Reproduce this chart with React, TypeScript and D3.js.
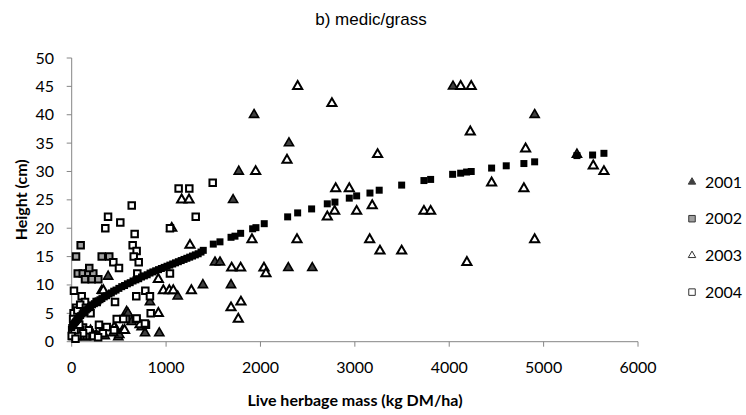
import React from 'react';
import * as d3 from 'd3';

// [herbage mass kg DM/ha, height cm]
const s2001: [number, number][] = [
  [1932, 40], [2302, 35], [1770, 30], [1710, 25], [1688, 10], [2295, 13], [2549, 13],
  [4040, 45], [4905, 40], [5353, 33], [1518, 14], [1571, 14],
  [386, 11.5], [318, 9], [582, 5.3], [596, 5], [635, 3.5], [494, 0.8], [504, 1.2], [540, 2],
  [777, 1.5], [928, 1.5], [829, 7], [1123, 8], [1390, 10], [741, 2.6],
  [100, 1.5], [200, 2], [260, 1.2], [440, 1.5], [470, 2.2], [150, 0.8], [350, 1]
];

const s2002: [number, number][] = [
  [46, 15], [95, 17], [318, 15], [398, 15], [64, 12], [117, 12], [176, 12], [229, 12],
  [186, 13], [141, 11], [212, 11], [282, 11],
  [10, 1], [40, 1], [70, 1], [100, 1], [130, 1], [160, 1], [190, 1], [220, 1], [250, 1.2],
  [20, 3], [60, 4], [30, 5], [120, 2.5], [5, 2], [85, 2]
];

const s2003: [number, number][] = [
  [2394, 45], [4121, 45], [4233, 45], [2757, 42], [4223, 37], [4809, 34], [3241, 33],
  [2281, 32], [5526, 31], [1949, 30], [5639, 30], [4449, 28], [2797, 27], [2941, 27],
  [4791, 27], [1165, 25], [1243, 25], [3184, 24], [2786, 23], [3019, 23], [3732, 23],
  [3803, 23], [2708, 22], [1060, 20], [1910, 18], [2387, 18], [3157, 18], [4905, 18],
  [1253, 17], [3266, 16], [3496, 16], [4187, 14], [1695, 13], [1790, 13], [2037, 13],
  [2058, 12], [918, 11], [971, 9], [1034, 9], [1076, 9], [1268, 9], [335, 9],
  [1793, 7], [1688, 6], [918, 5], [1765, 4], [724, 3], [450, 2.5], [560, 2]
];

const s2004: [number, number][] = [
  [1494, 28], [1133, 27], [1246, 27], [636, 24], [385, 22], [1314, 22], [515, 21],
  [356, 20], [1041, 20], [667, 19], [646, 17], [688, 16], [657, 15], [710, 14], [441, 14],
  [501, 13], [695, 12], [1041, 12], [24, 9], [780, 9], [106, 8], [684, 8], [829, 8],
  [141, 7], [265, 7], [459, 7], [46, 6], [837, 5], [477, 4], [575, 4], [681, 4], [787, 3],
  [289, 3], [448, 2], [371, 2.6], [776, 3.2], [688, 4.1], [547, 4], [20, 5], [60, 5.5],
  [90, 6.5], [150, 6], [200, 5], [180, 2], [120, 1.5], [60, 1], [30, 2], [230, 1],
  [330, 1.5], [80, 3], [15, 4], [0, 1], [40, 0.5], [280, 0.8]
];

// predicted heights (black squares, no legend entry)
const fitted: [number, number][] = [
  [0, 2.5], [10, 2.8], [20, 3], [30, 3.3], [40, 3.5], [50, 3.7], [60, 3.9], [70, 4.1],
  [80, 4.3], [95, 4.6], [110, 4.9], [125, 5.1], [140, 5.3], [155, 5.6], [170, 5.8],
  [185, 6.0], [200, 6.2], [220, 6.5], [240, 6.7], [260, 7.0], [280, 7.2], [300, 7.4],
  [320, 7.6], [345, 7.9], [370, 8.1], [395, 8.4], [420, 8.6], [445, 8.9], [470, 9.1],
  [500, 9.4], [530, 9.7], [560, 9.9], [590, 10.2], [620, 10.4], [650, 10.7], [680, 10.9],
  [710, 11.1], [740, 11.4], [770, 11.6], [800, 11.8], [830, 12.1], [860, 12.3],
  [890, 12.5], [920, 12.7], [950, 12.9], [980, 13.1], [1010, 13.3], [1040, 13.5],
  [1070, 13.7], [1100, 13.9], [1130, 14.1], [1160, 14.3], [1190, 14.5], [1220, 14.7],
  [1250, 14.9], [1280, 15.1], [1310, 15.3], [1340, 15.5], [1370, 15.8], [1394, 16.1],
  [1500, 17.2], [1571, 17.6], [1688, 18.4], [1730, 18.6], [1790, 19.1], [1917, 19.9],
  [1952, 20.1], [2040, 20.8], [2288, 22.0], [2394, 22.7], [2542, 23.4], [2708, 24.3],
  [2789, 24.6], [2941, 25.3], [3019, 25.7], [3160, 26.2], [3258, 26.7], [3496, 27.6],
  [3732, 28.4], [3803, 28.6], [4036, 29.5], [4121, 29.7], [4184, 29.9], [4233, 30.0],
  [4449, 30.6], [4604, 31.0], [4791, 31.4], [4905, 31.7], [5353, 32.8], [5519, 32.9],
  [5639, 33.2]
];

const legendYears = ['2001', '2002', '2003', '2004'];
const xTicks = [0, 1000, 2000, 3000, 4000, 5000, 6000];
const yTicks = [0, 5, 10, 15, 20, 25, 30, 35, 40, 45, 50];

const W = 746, H = 415;
const font = 'Lato, "Open Sans", sans-serif';

export default function App() {
  const x = d3.scaleLinear().domain([0, 6000]).range([71.7, 638]);
  const y = d3.scaleLinear().domain([0, 50]).range([341.7, 58]);

  const tri = d3.symbol().type(d3.symbolTriangle).size(36)() as string;
  const triSmall = d3.symbol().type(d3.symbolTriangle).size(24)() as string;
  const sq = (s: number) => `M${-s / 2},${-s / 2}h${s}v${s}h${-s}Z`;

  const styles = [
    { path: tri, fill: '#404040', stroke: '#000', sw: 1.6 },
    { path: sq(6.5), fill: '#a0a0a0', stroke: '#000', sw: 2 },
    { path: tri, fill: '#fff', stroke: '#000', sw: 2 },
    { path: sq(6.5), fill: '#fff', stroke: '#000', sw: 2 },
  ];
  const series = [s2001, s2002, s2003, s2004];
  const legendStyles = [
    { path: triSmall, fill: '#404040', stroke: '#404040' },
    { path: sq(6.5), fill: '#a0a0a0', stroke: '#333' },
    { path: triSmall, fill: '#fff', stroke: '#333' },
    { path: sq(6.5), fill: '#fff', stroke: '#333' },
  ];

  return (
    <svg width={W} height={H} style={{ position: 'absolute', left: 0, top: 0, background: '#fff' }}>
      <text x={371} y={25} textAnchor="middle" fontFamily='"Liberation Sans Narrow", "Liberation Sans", Arial, sans-serif'
        fontSize={17} fill="#000">b) medic/grass</text>

      {/* axes */}
      <line x1={x(0)} x2={x(6000)} y1={y(0)} y2={y(0)} stroke="#868686" />
      <line x1={x(0)} x2={x(0)} y1={y(0)} y2={y(50)} stroke="#868686" />
      {xTicks.map(t => (
        <g key={t}>
          <line x1={x(t)} x2={x(t)} y1={y(0)} y2={y(0) + 5} stroke="#868686" />
          <text x={x(t)} y={y(0) + 31} textAnchor="middle" fontFamily={font} fontSize={16} fill="#000">{t}</text>
        </g>
      ))}
      {yTicks.map(t => (
        <g key={t}>
          <line x1={x(0) - 5} x2={x(0)} y1={y(t)} y2={y(t)} stroke="#868686" />
          <text x={54} y={y(t) + 5.5} textAnchor="end" fontFamily={font} fontSize={16} fill="#000">{t}</text>
        </g>
      ))}
      <text x={355} y={406} textAnchor="middle" fontFamily={font} fontSize={16} fontWeight="bold">Live herbage mass (kg DM/ha)</text>
      <text transform={`translate(27,${(y(0) + y(50)) / 2}) rotate(-90)`} textAnchor="middle"
        fontFamily={font} fontSize={16} fontWeight="bold">Height (cm)</text>

      {/* data */}
      {series.map((s, i) => (
        <g key={i}>
          {s.map((d, j) => (
            <path key={j} d={styles[i].path} transform={`translate(${x(d[0])},${y(d[1])})`}
              fill={styles[i].fill} stroke={styles[i].stroke} strokeWidth={styles[i].sw} />
          ))}
        </g>
      ))}
      <g>
        {fitted.map((d, j) => (
          <path key={j} d={sq(7)} transform={`translate(${x(d[0])},${y(d[1])})`} fill="#000" />
        ))}
      </g>

      {/* legend */}
      {legendYears.map((yr, i) => (
        <g key={yr} transform={`translate(692,${182 + i * 36.7})`}>
          <path d={legendStyles[i].path} fill={legendStyles[i].fill} stroke={legendStyles[i].stroke} strokeWidth={1} />
          <text x={13} y={5.5} fontFamily={font} fontSize={16} fill="#000">{yr}</text>
        </g>
      ))}
    </svg>
  );
}
